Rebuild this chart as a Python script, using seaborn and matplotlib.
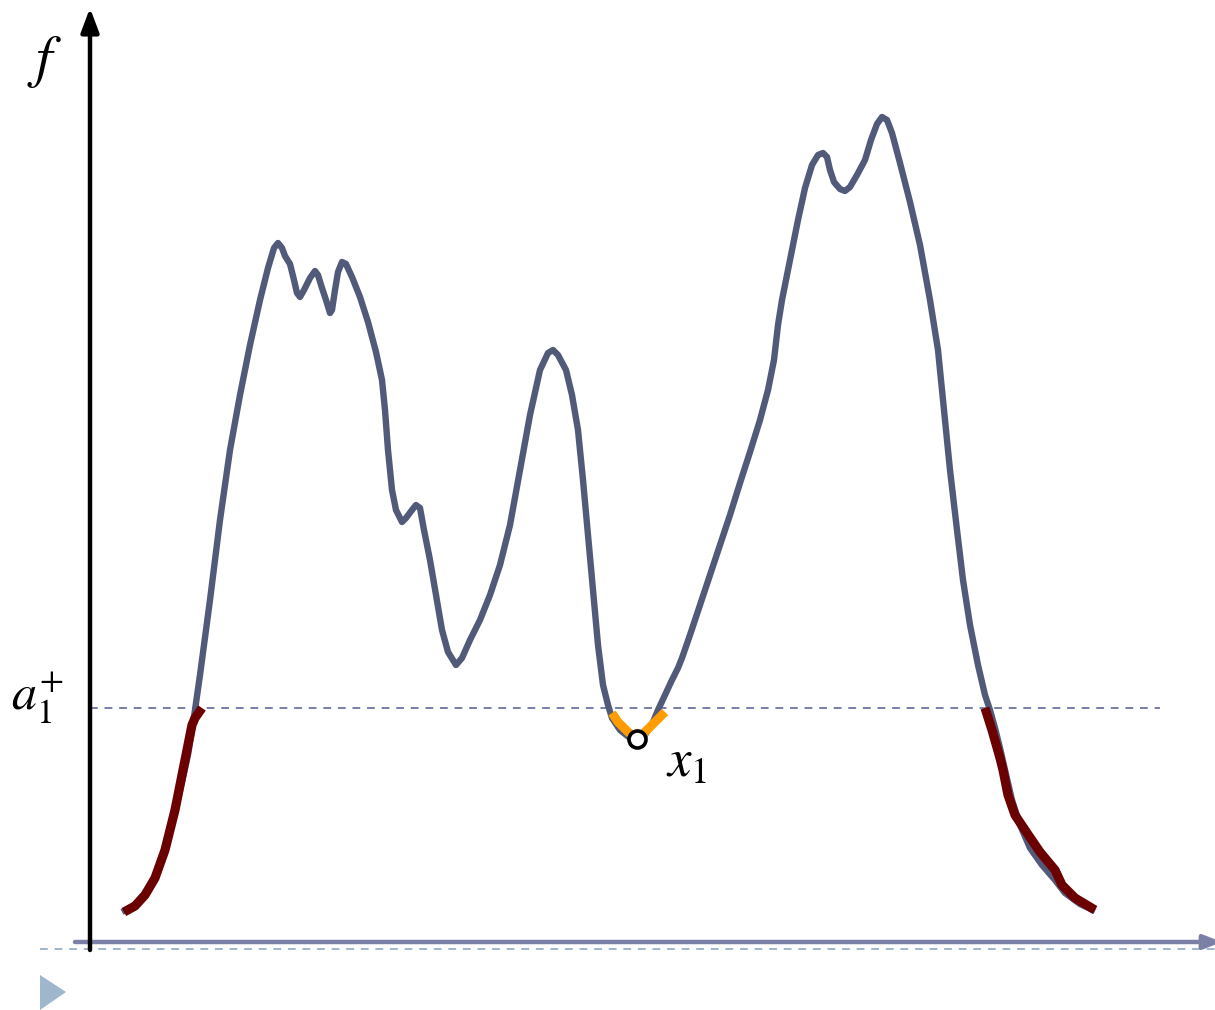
import matplotlib
matplotlib.use("Agg")
import matplotlib.pyplot as plt
import seaborn as sns
import pandas as pd
from matplotlib.patches import Polygon

sns.set_theme(style="white")
plt.rcParams["mathtext.fontset"] = "stix"

# Main profile f(x): x position and height above the horizontal axis
curve_x = [122, 135, 148, 158, 168, 178, 188, 195, 200, 210, 220, 230, 240, 250, 260, 268, 274, 278,
           282, 285, 290, 294, 297, 300, 304, 310, 315, 318, 322, 326, 330, 332, 335, 338, 342, 346,
           352, 360, 368, 376, 382, 385, 388, 392, 396, 402, 406, 412, 416, 420, 424, 430, 436, 442,
           448, 456, 462, 470, 480, 490, 500, 510, 520, 530, 540, 548, 553, 558, 566, 572, 578, 583,
           588, 593, 598, 603, 608, 612, 620, 630, 638, 645, 653, 658, 665, 672, 678, 682, 690, 700,
           710, 720, 730, 740, 750, 760, 768, 774, 778, 782, 790, 798, 805, 812, 818, 823, 827, 830,
           834, 840, 845, 850, 857, 865, 871, 877, 882, 887, 892, 900, 910, 920, 930, 938, 945, 950,
           957, 963, 970, 978, 985, 990, 995, 1000, 1005, 1012, 1020, 1030, 1042, 1055, 1065, 1080, 1095]
curve_f = [30, 37, 52, 72, 102, 142, 187, 232, 267, 342, 422, 492, 547, 597, 642, 674, 694, 699,
           694, 686, 678, 662, 649, 645, 652, 664, 671, 667, 654, 642, 629, 632, 652, 670, 680, 678,
           665, 645, 620, 590, 562, 532, 492, 452, 432, 420, 424, 432, 437, 434, 412, 382, 347, 312,
           290, 277, 284, 302, 322, 347, 377, 417, 472, 527, 572, 589, 592, 587, 572, 547, 512, 462,
           407, 352, 297, 257, 237, 224, 212, 204, 202, 207, 220, 232, 247, 262, 274, 284, 307, 337,
           367, 397, 427, 459, 490, 522, 552, 582, 617, 642, 682, 722, 754, 777, 787, 789, 785, 772,
           760, 753, 751, 755, 767, 782, 802, 818, 825, 822, 809, 779, 740, 697, 642, 592, 522, 472,
           412, 362, 317, 277, 247, 232, 214, 194, 172, 142, 117, 94, 77, 62, 49, 38, 31]

# Tails below the level a1+ (dark red)
left_x = [124, 135, 145, 155, 165, 175, 185, 188, 192, 195, 202]
left_f = [30, 36, 47, 64, 92, 132, 182, 197, 217, 224, 234]
right_x = [985, 992, 1000, 1003, 1008, 1015, 1025, 1040, 1055, 1062, 1075, 1095]
right_f = [234, 212, 184, 172, 147, 127, 112, 90, 72, 57, 44, 32]

# Basin around the minimum x1 (orange)
basin_x = [612, 618, 628, 637, 645, 655, 665]
basin_f = [229, 220, 210, 204, 210, 220, 230]

# Minimum point and level
x1 = [637]
f_x1 = [203]
level_a1 = 234

curve = pd.DataFrame({"x": curve_x, "f": curve_f})
left = pd.DataFrame({"x": left_x, "f": left_f})
right = pd.DataFrame({"x": right_x, "f": right_f})
basin = pd.DataFrame({"x": basin_x, "f": basin_f})
minimum = pd.DataFrame({"x": x1, "f": f_x1})

fig = plt.figure(figsize=(12.15, 10.10), dpi=100)
ax = fig.add_axes([0, 0, 1, 1])
ax.set_xlim(0, 1215)
ax.set_ylim(-68, 942)
ax.axis("off")

curve_col = "#525a7a"
red_col = "#6b0000"
orange_col = "#ff9d00"

# Level a1+ and baseline guides
ax.plot([90, 1160], [level_a1, level_a1], color="#7a7ea8", lw=1.4, ls=(0, (4, 3.5)))
ax.plot([40, 1215], [-7, -7], color="#a0b4cc", lw=1.4, ls=(0, (4, 3.5)))

sns.lineplot(data=curve, x="x", y="f", sort=False, color=curve_col, ax=ax)
sns.lineplot(data=left, x="x", y="f", sort=False, color=red_col, ax=ax)
sns.lineplot(data=right, x="x", y="f", sort=False, color=red_col, ax=ax)
sns.lineplot(data=basin, x="x", y="f", sort=False, color=orange_col, ax=ax)

# Stroke widths: main profile, the two tails, the basin
widths = [4.6, 6.6, 6.6, 6.4]
for line, w in zip(ax.lines[2:6], widths):
    line.set_linewidth(w)
    line.set_solid_joinstyle("round")
    line.set_solid_capstyle("butt")

sns.scatterplot(data=minimum, x="x", y="f", s=150, color="white", edgecolor="black",
                linewidth=2.6, zorder=5, ax=ax)
ax.set_xlabel("")
ax.set_ylabel("")

# Axes arrows
ax.annotate("", xy=(1222, 0), xytext=(75, 0), annotation_clip=False,
            arrowprops=dict(arrowstyle="-|>,head_length=0.9,head_width=0.35",
                            color="#7a80a6", lw=3.2, shrinkA=0, shrinkB=0))
ax.annotate("", xy=(90, 934), xytext=(90, -8), annotation_clip=False,
            arrowprops=dict(arrowstyle="-|>,head_length=1.2,head_width=0.45",
                            color="black", lw=3.2, shrinkA=0, shrinkB=0))

# Small marker at the bottom left
ax.add_patch(Polygon([[40, -33], [40, -68], [66, -50]], closed=True,
                     facecolor="#9fb6cc", edgecolor="none"))

ax.text(45, 880, r"$f$", fontsize=42, ha="center", va="center", color="black")
ax.text(37, 244, r"$a_1^{+}$", fontsize=36, ha="center", va="center", color="black")
ax.text(687, 180, r"$x_1$", fontsize=38, ha="center", va="center", color="black")

fig.savefig("out.png", dpi=100)
